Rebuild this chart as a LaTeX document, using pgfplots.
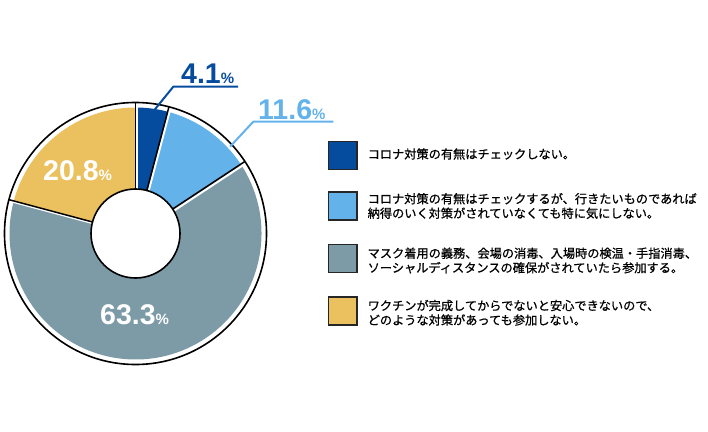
\documentclass[border=0pt]{standalone}
\usepackage{pgfplots}
\usepackage{pgfplotstable}
\pgfplotsset{compat=1.18}
\usepackage{fontspec}
\setmainfont{Liberation Sans}
\newfontfamily\jp[RawFeature={embolden=0.8}]{Noto Sans CJK JP}

\definecolor{cA}{RGB}{6,76,158}
\definecolor{cB}{RGB}{100,178,234}
\definecolor{cC}{RGB}{124,155,167}
\definecolor{cD}{RGB}{235,192,94}

\pgfplotstableread{
label value
A 4.1
B 11.6
C 63.3
D 20.8
}\pietable

\pgfplotstablegetelem{0}{value}\of\pietable \let\vA\pgfplotsretval
\pgfplotstablegetelem{1}{value}\of\pietable \let\vB\pgfplotsretval
\pgfplotstablegetelem{2}{value}\of\pietable \let\vC\pgfplotsretval
\pgfplotstablegetelem{3}{value}\of\pietable \let\vD\pgfplotsretval

\pgfmathsetmacro\tot{\vA+\vB+\vC+\vD}
\pgfmathsetmacro\aA{90}
\pgfmathsetmacro\aB{90-\vA/\tot*360}
\pgfmathsetmacro\aC{\aB-\vB/\tot*360}
\pgfmathsetmacro\aD{\aC-\vC/\tot*360}
\pgfmathsetmacro\aE{-270}

\def\cx{135.5}
\def\cy{197.5}
\def\cxs{137.0}
\def\cys{196.0}
\def\rf{126}
\def\ro{131}
\def\ri{44.5}

\begin{document}
\begin{tikzpicture}
\begin{axis}[
  scale only axis, width=708pt, height=431pt,
  xmin=0, xmax=708, ymin=0, ymax=431,
  hide axis, clip=false, enlargelimits=false]
\path (axis cs:0,0) rectangle (axis cs:708,431);
% slices
\fill[cA] (axis cs:\cx,\cy) -- ++(\aA:\rf) arc[start angle=\aA, end angle=\aB, radius=\rf] -- cycle;
\fill[cB] (axis cs:\cx,\cy) -- ++(\aB:\rf) arc[start angle=\aB, end angle=\aC, radius=\rf] -- cycle;
\fill[cC] (axis cs:\cx,\cy) -- ++(\aC:\rf) arc[start angle=\aC, end angle=\aD, radius=\rf] -- cycle;
\fill[cD] (axis cs:\cx,\cy) -- ++(\aD:\rf) arc[start angle=\aD, end angle=\aE, radius=\rf] -- cycle;
% white offset separators
\draw[white, line width=2pt] (axis cs:\cxs,\cys) -- ++(\aA:129);
\draw[white, line width=2pt] (axis cs:\cxs,\cys) -- ++(\aB:129);
\draw[white, line width=2pt] (axis cs:\cxs,\cys) -- ++(\aC:129);
\draw[white, line width=2pt] (axis cs:\cxs,\cys) -- ++(\aD:129);
% black separators
\draw[black, line width=1.5pt] (axis cs:\cx,\cy) -- ++(\aA:\ro);
\draw[black, line width=1.5pt] (axis cs:\cx,\cy) -- ++(\aB:\ro);
\draw[black, line width=1.5pt] (axis cs:\cx,\cy) -- ++(\aC:\ro);
\draw[black, line width=1.5pt] (axis cs:\cx,\cy) -- ++(\aD:\ro);
% outline and hole
\draw[black, line width=1.6pt] (axis cs:\cx,\cy) circle[radius=\ro];
\filldraw[fill=white, draw=black, line width=1.6pt] (axis cs:\cx,\cy) circle[radius=\ri];
% value labels
\node[anchor=base west, inner sep=0, text=cA] at (axis cs:181,347.7) {\bfseries\fontsize{28.5}{28}\selectfont 4.1\fontsize{15}{15}\selectfont\%};
\node[anchor=base west, inner sep=0, text=cB] at (axis cs:258,311) {\bfseries\fontsize{28.5}{28}\selectfont 11.6\fontsize{15}{15}\selectfont\%};
\node[anchor=base west, inner sep=0, text=white] at (axis cs:43,250) {\bfseries\fontsize{28.5}{28}\selectfont 20.8\fontsize{15}{15}\selectfont\%};
\node[anchor=base west, inner sep=0, text=white] at (axis cs:100,106.7) {\bfseries\fontsize{28.5}{28}\selectfont 63.3\fontsize{15}{15}\selectfont\%};
% leader lines
\draw[cA, line width=2pt] (axis cs:151.7,317.7) -- (axis cs:173.3,344.3) -- (axis cs:238,344.3);
\draw[cB, line width=2pt] (axis cs:230,284.3) -- (axis cs:253.3,309.3) -- (axis cs:333.3,309.3);
% legend boxes
\filldraw[fill=cA, draw=black!85, line width=1.5pt] (axis cs:328.5,261.3) rectangle (axis cs:357,289.7);
\filldraw[fill=cB, draw=black!85, line width=1.5pt] (axis cs:328.5,210.8) rectangle (axis cs:357,239.2);
\filldraw[fill=cC, draw=black!85, line width=1.5pt] (axis cs:328.5,158.3) rectangle (axis cs:357,186.7);
\filldraw[fill=cD, draw=black!85, line width=1.5pt] (axis cs:328.5,105.8) rectangle (axis cs:357,134.2);
% legend texts
\tikzset{lgtext/.style={anchor=west, inner sep=0, align=left, font=\jp\fontsize{12.2}{15}\selectfont}}
\node[lgtext] at (axis cs:367.5,277) {コロナ対策の有無はチェックしない。};
\node[lgtext] at (axis cs:367.5,225) {コロナ対策の有無はチェックするが、行きたいものであれば\\[-0.5pt]納得のいく対策がされていなくても特に気にしない。};
\node[lgtext] at (axis cs:367.5,170.5) {マスク着用の義務、会場の消毒、入場時の検温・手指消毒、\\[-0.5pt]ソーシャルディスタンスの確保がされていたら参加する。};
\node[lgtext] at (axis cs:367.5,118.2) {ワクチンが完成してからでないと安心できないので、\\[-0.5pt]どのような対策があっても参加しない。};
\end{axis}
\end{tikzpicture}
\end{document}
